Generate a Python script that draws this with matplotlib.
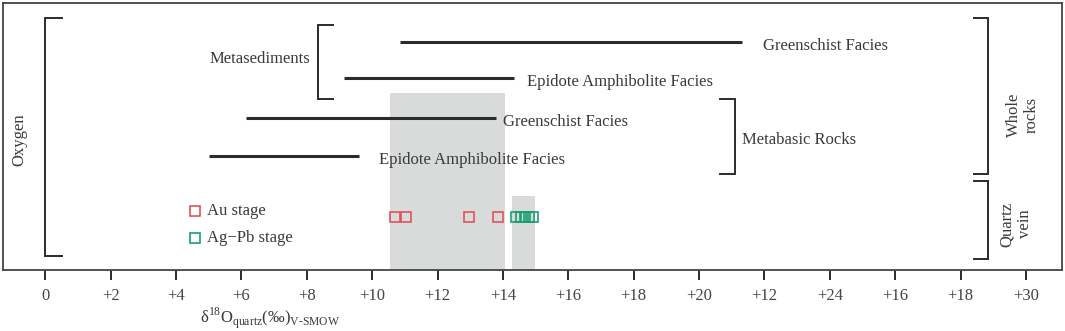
import matplotlib
matplotlib.use('Agg')
import matplotlib.pyplot as plt
from matplotlib.patches import Rectangle

plt.rcParams['font.family'] = ['Liberation Serif', 'DejaVu Serif']
plt.rcParams['mathtext.fontset'] = 'custom'
plt.rcParams['mathtext.rm'] = 'Liberation Serif'

# x ticks as printed on the original (labels kept verbatim)
tick_pos = list(range(0, 31, 2))
tick_labels = ['0', '+2', '+4', '+6', '+8', '+10', '+12', '+14', '+16', '+18',
               '+20', '+12', '+24', '+16', '+18', '+30']

# facies ranges (per mil)
facies_names = ['Greenschist Facies', 'Epidote Amphibolite Facies',
                'Greenschist Facies', 'Epidote Amphibolite Facies']
facies_start = [10.85, 9.15, 6.15, 5.0]
facies_end = [21.3, 14.35, 13.8, 9.6]
facies_y = [228, 192, 152, 114]

# quartz vein samples
au_vals = [10.7, 11.05, 12.95, 13.85]
agpb_vals = [14.4, 14.55, 14.68, 14.8, 14.92]
sample_y = 53

# grey ranges for each stage
au_range = (10.55, 14.05)
agpb_range = (14.28, 14.98)

# gap between each facies line and its label
label_gap = [0.67, 0.38, 0.21, 0.62]

line_col = '#2b2b2b'
txt_col = '#3a3a3a'
red = '#e0535c'
green = '#1a9e6e'
fs = 12

fig = plt.figure(figsize=(10.65, 3.31), dpi=100)
ax = fig.add_axes([3 / 1065, 61 / 331, 1059 / 1065, 267 / 331])
ax.set_xlim(-1.29, 31.1)
ax.set_ylim(0, 267)

# shaded ranges
ax.add_patch(Rectangle((au_range[0], 0), au_range[1] - au_range[0], 177,
                       facecolor='#d9dbdb', edgecolor='none', zorder=1))
ax.add_patch(Rectangle((agpb_range[0], 0), agpb_range[1] - agpb_range[0], 74,
                       facecolor='#d9dbdb', edgecolor='none', zorder=1))

for x0, x1, y, name, gap in zip(facies_start, facies_end, facies_y, facies_names, label_gap):
    ax.plot([x0, x1], [y, y], color=line_col, lw=2.2, solid_capstyle='butt', zorder=2)
    ax.text(x1 + gap, y - 4, name, fontsize=fs, color=txt_col, va='center', ha='left')

ax.plot(au_vals, [sample_y] * len(au_vals), 's', ms=7, mfc='none', mec=red, mew=1.2, ls='none', zorder=3)
ax.plot(agpb_vals, [sample_y] * len(agpb_vals), 's', ms=7, mfc='none', mec=green, mew=1.2, ls='none', zorder=3)

# legend
ax.plot([4.58], [59], 's', ms=7, mfc='none', mec=red, mew=1.2)
ax.plot([4.58], [32], 's', ms=7, mfc='none', mec=green, mew=1.2)
ax.text(4.95, 59, 'Au stage', fontsize=fs, color=txt_col, va='center')
ax.text(4.95, 32, 'Ag\u2212Pb stage', fontsize=fs, color=txt_col, va='center')


def bracket(x, y0, y1, arm, side):
    ax.plot([x + arm * side, x, x, x + arm * side], [y0, y0, y1, y1],
            color=line_col, lw=1.4, solid_joinstyle='miter')


bracket(0.0, 14, 252, 0.52, 1)
bracket(8.35, 171, 245, 0.45, 1)
bracket(21.1, 96, 171, 0.45, -1)
bracket(28.85, 96, 252, 0.45, -1)
bracket(28.85, 11, 89, 0.45, -1)

ax.text(-0.78, 130, 'Oxygen', rotation=90, fontsize=fs, color=txt_col, ha='center', va='center')
ax.text(8.1, 211, 'Metasediments', fontsize=fs, color=txt_col, ha='right', va='center')
ax.text(21.3, 130, 'Metabasic Rocks', fontsize=fs, color=txt_col, ha='left', va='center')
ax.text(29.9, 155, 'Whole\nrocks', rotation=90, fontsize=fs, color=txt_col,
        ha='center', va='center', linespacing=1.15)
ax.text(29.7, 46, 'Quartz\nvein', rotation=90, fontsize=fs, color=txt_col,
        ha='center', va='center', linespacing=1.15)

ax.set_xticks(tick_pos)
ax.set_xticklabels(tick_labels)
ax.set_yticks([])
ax.tick_params(axis='x', direction='out', length=7, width=1.4, color=line_col,
               labelsize=fs, labelcolor='#444444', pad=6)
for s in ax.spines.values():
    s.set_color('#444444')
    s.set_linewidth(1.3)

fig.text(270 / 1065, 8 / 331, r'δ$^{\rm 18}$O$_{\rm quartz}$(‰)$_{\rm V\text{-}SMOW}$',
         fontsize=fs, color=txt_col, ha='center', va='baseline')

fig.savefig('out.png', dpi=100)
